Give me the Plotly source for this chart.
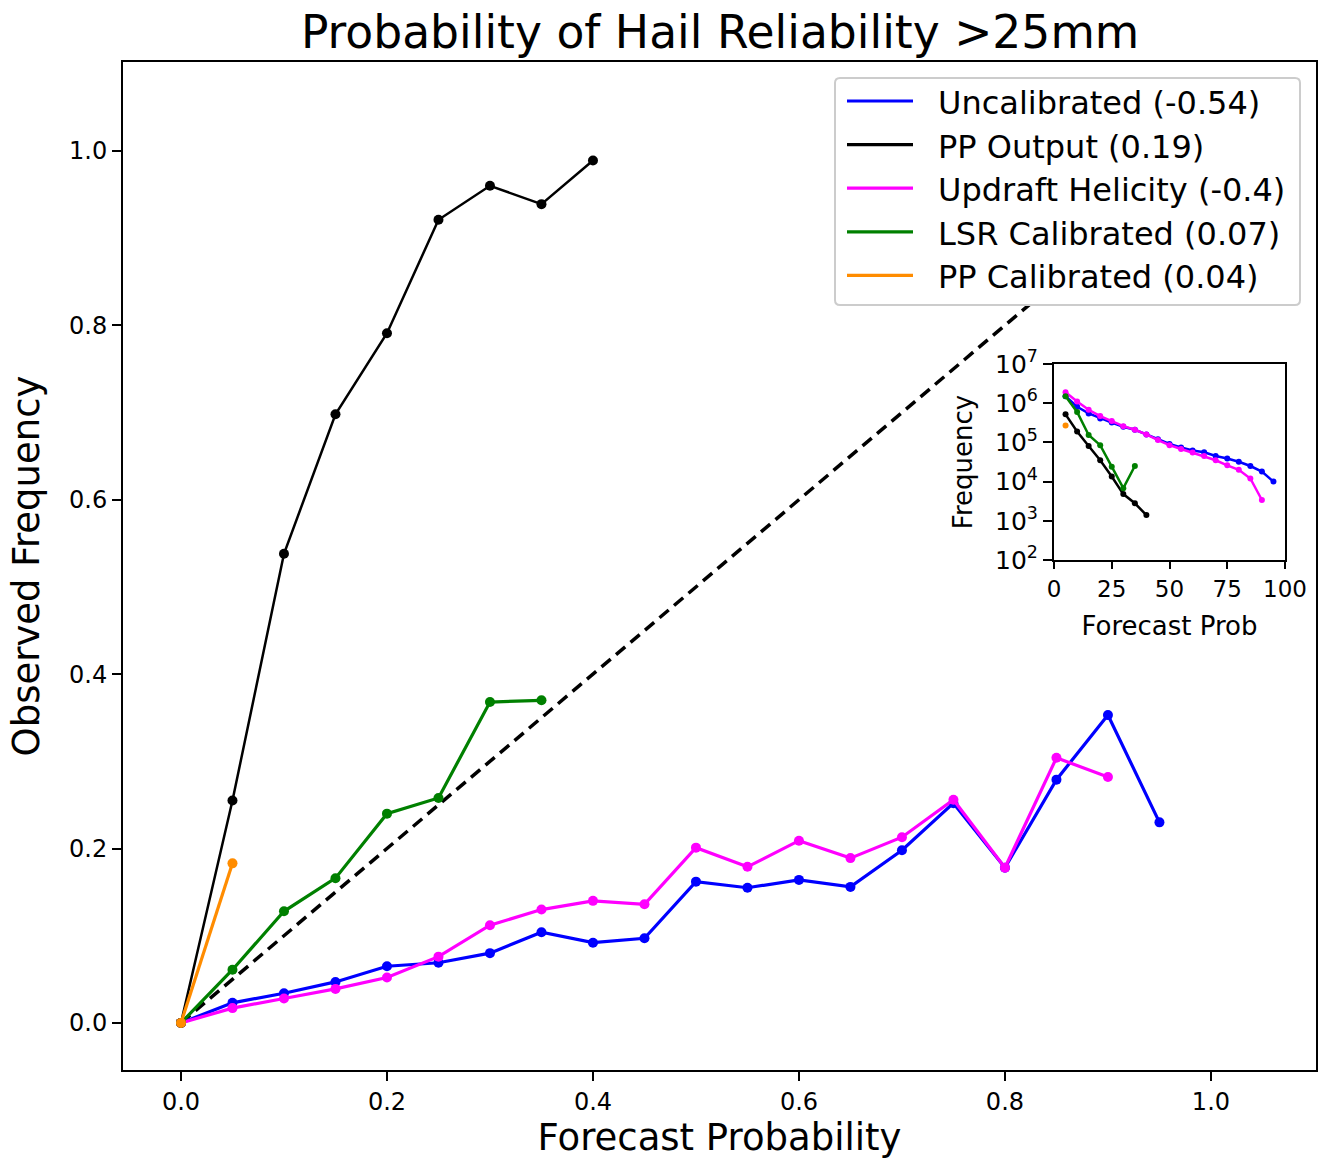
import plotly.graph_objects as go

# ---------------- data ----------------
prob_unc = [0.0, 0.05, 0.1, 0.15, 0.2, 0.25, 0.3, 0.35, 0.4, 0.45, 0.5, 0.55, 0.6, 0.65, 0.7, 0.75, 0.8, 0.85, 0.9, 0.95]
obs_unc = [0.0, 0.023, 0.034, 0.047, 0.065, 0.069, 0.080, 0.104, 0.092, 0.097, 0.162, 0.155, 0.164, 0.156, 0.198, 0.252, 0.178, 0.279, 0.353, 0.230]

prob_pp = [0.0, 0.05, 0.1, 0.15, 0.2, 0.25, 0.3, 0.35, 0.4]
obs_pp = [0.0, 0.255, 0.538, 0.698, 0.791, 0.921, 0.960, 0.939, 0.989]

prob_uh = [0.0, 0.05, 0.1, 0.15, 0.2, 0.25, 0.3, 0.35, 0.4, 0.45, 0.5, 0.55, 0.6, 0.65, 0.7, 0.75, 0.8, 0.85, 0.9]
obs_uh = [0.0, 0.017, 0.028, 0.039, 0.052, 0.076, 0.112, 0.130, 0.140, 0.136, 0.201, 0.179, 0.209, 0.189, 0.213, 0.256, 0.178, 0.304, 0.282]

prob_lsr = [0.0, 0.05, 0.1, 0.15, 0.2, 0.25, 0.3, 0.35]
obs_lsr = [0.0, 0.061, 0.128, 0.166, 0.240, 0.258, 0.368, 0.370]

prob_ppc = [0.0, 0.05]
obs_ppc = [0.0, 0.183]

perfect = [0.0, 1.0]

# inset: forecast counts (forecast prob in %)
fp_unc = [5, 10, 15, 20, 25, 30, 35, 40, 45, 50, 55, 60, 65, 70, 75, 80, 85, 90, 95]
freq_unc = [1.5e6, 8.1e5, 5.5e5, 4.1e5, 3.2e5, 2.5e5, 2.1e5, 1.6e5, 1.2e5, 9.1e4, 7.4e4, 6.2e4, 5.6e4, 4.5e4, 3.9e4, 3.2e4, 2.5e4, 1.8e4, 1.0e4]
fp_uh = [5, 10, 15, 20, 25, 30, 35, 40, 45, 50, 55, 60, 65, 70, 75, 80, 85, 90]
freq_uh = [1.9e6, 1.1e6, 6.8e5, 4.7e5, 3.5e5, 2.6e5, 2.1e5, 1.6e5, 1.15e5, 8.5e4, 6.8e4, 5.5e4, 4.5e4, 3.5e4, 2.6e4, 2.0e4, 1.2e4, 3.4e3]
fp_lsr = [5, 10, 15, 20, 25, 30, 35]
freq_lsr = [1.5e6, 6.0e5, 1.55e5, 8.5e4, 2.4e4, 6.8e3, 2.5e4]
fp_pp = [5, 10, 15, 20, 25, 30, 35, 40]
freq_pp = [5.2e5, 1.9e5, 8.1e4, 3.5e4, 1.35e4, 4.8e3, 2.8e3, 1.4e3]
fp_ppc = [5]
freq_ppc = [2.7e5]

names = ["Uncalibrated (-0.54)", "PP Output (0.19)", "Updraft Helicity (-0.4)",
         "LSR Calibrated (0.07)", "PP Calibrated (0.04)"]
colors = ["#0000ff", "#000000", "#ff00ff", "#008000", "#ff8c00"]

main_ticks = [0.0, 0.2, 0.4, 0.6, 0.8, 1.0]
inset_xticks = [0, 25, 50, 75, 100]
inset_yticks = [1e2, 1e3, 1e4, 1e5, 1e6, 1e7]
inset_ytext = ["10<sup>2</sup>", "10<sup>3</sup>", "10<sup>4</sup>",
               "10<sup>5</sup>", "10<sup>6</sup>", "10<sup>7</sup>"]

main_series = [(prob_unc, obs_unc), (prob_pp, obs_pp), (prob_uh, obs_uh),
               (prob_lsr, obs_lsr), (prob_ppc, obs_ppc)]
inset_series = [(fp_unc, freq_unc), (fp_pp, freq_pp), (fp_uh, freq_uh),
                (fp_lsr, freq_lsr), (fp_ppc, freq_ppc)]

FONT = "DejaVu Sans"

fig = go.Figure()

# perfect reliability line
fig.add_trace(go.Scatter(x=perfect, y=perfect, mode="lines",
                         line=dict(color="black", width=3.5, dash="12px,7px"),
                         showlegend=False, hoverinfo="skip"))

for (xs, ys), c, n in zip(main_series, colors, names):
    w = 2.5 if c == "#000000" else 3.2
    fig.add_trace(go.Scatter(x=xs, y=ys, mode="lines+markers",
                             line=dict(color=c, width=w),
                             marker=dict(color=c, size=10),
                             name=n, showlegend=False))

# inset
for (xs, ys), c, n in zip(inset_series, colors, names):
    fig.add_trace(go.Scatter(x=xs, y=ys, mode="lines+markers",
                             line=dict(color=c, width=2.5),
                             marker=dict(color=c, size=6), name=n,
                             xaxis="x2", yaxis="y2", showlegend=False))

W, H = 1320, 1159
L, R, T, B = 123, 4, 62, 89
pw, ph = W - L - R, H - T - B

def px2dx(px):
    return (px - L) / pw

def py2dy(py):
    return (H - B - py) / ph

# ---- legend box (drawn manually, matplotlib style) ----
bx0, bx1, by0, by1, rr = 835, 1300, 78, 305, 5
path = (f"M {px2dx(bx0 + rr)},{py2dy(by0)} L {px2dx(bx1 - rr)},{py2dy(by0)} "
        f"Q {px2dx(bx1)},{py2dy(by0)} {px2dx(bx1)},{py2dy(by0 + rr)} "
        f"L {px2dx(bx1)},{py2dy(by1 - rr)} "
        f"Q {px2dx(bx1)},{py2dy(by1)} {px2dx(bx1 - rr)},{py2dy(by1)} "
        f"L {px2dx(bx0 + rr)},{py2dy(by1)} "
        f"Q {px2dx(bx0)},{py2dy(by1)} {px2dx(bx0)},{py2dy(by1 - rr)} "
        f"L {px2dx(bx0)},{py2dy(by0 + rr)} "
        f"Q {px2dx(bx0)},{py2dy(by0)} {px2dx(bx0 + rr)},{py2dy(by0)} Z")
shapes = [dict(type="path", path=path, xref="paper", yref="paper",
               fillcolor="white", line=dict(color="#cccccc", width=2), layer="above")]
annotations = []
row_y0, row_dy = 101, 43.6
for i, (c, n) in enumerate(zip(colors, names)):
    yy = py2dy(row_y0 + i * row_dy)
    shapes.append(dict(type="line", xref="paper", yref="paper",
                       x0=px2dx(847), x1=px2dx(913), y0=yy, y1=yy,
                       line=dict(color=c, width=3.2), layer="above"))
    annotations.append(dict(text=n, xref="paper", yref="paper", x=px2dx(936),
                            y=py2dy(row_y0 + 2 + i * row_dy),
                            xanchor="left", yanchor="middle", showarrow=False,
                            font=dict(size=32, family=FONT, color="black")))

fig.update_layout(
    width=W, height=H,
    margin=dict(l=L, r=R, t=T, b=B, pad=0),
    paper_bgcolor="white", plot_bgcolor="white",
    font=dict(family=FONT, color="black"),
    title=dict(text="Probability of Hail Reliability >25mm", x=0.5455, xanchor="center",
               y=1 - 32 / H, yanchor="middle", font=dict(size=45.6, family=FONT)),
    xaxis=dict(range=[-0.0563, 1.102], tickvals=main_ticks,
               tickformat=".1f", showgrid=False, zeroline=False,
               showline=True, mirror=True, linecolor="black", linewidth=2,
               ticks="outside", ticklen=9, tickwidth=2, tickcolor="black",
               tickfont=dict(size=24), automargin=False,
               title=dict(text="Forecast Probability", font=dict(size=37), standoff=17)),
    yaxis=dict(range=[-0.054, 1.102], tickvals=main_ticks,
               tickformat=".1f", showgrid=False, zeroline=False,
               showline=True, mirror=True, linecolor="black", linewidth=2,
               ticks="outside", ticklen=9, tickwidth=2, tickcolor="black",
               tickfont=dict(size=24), automargin=False,
               title=dict(text="Observed Frequency", font=dict(size=37), standoff=18)),
    xaxis2=dict(domain=[px2dx(1054), px2dx(1285)], anchor="y2", range=[0, 100],
                tickvals=inset_xticks, showgrid=False, zeroline=False,
                showline=True, mirror=True, linecolor="black", linewidth=2,
                ticks="outside", ticklen=7, tickwidth=2, tickcolor="black",
                tickfont=dict(size=23), automargin=False,
                title=dict(text="Forecast Prob", font=dict(size=26), standoff=16)),
    yaxis2=dict(domain=[py2dy(560), py2dy(364)], anchor="x2", type="log", range=[2, 7],
                tickvals=inset_yticks, ticktext=inset_ytext,
                showgrid=False, zeroline=False,
                showline=True, mirror=True, linecolor="black", linewidth=2,
                ticks="outside", ticklen=9, tickwidth=2, tickcolor="black",
                tickfont=dict(size=25), automargin=False,
                title=dict(text="Frequency", font=dict(size=26), standoff=15)),
    shapes=shapes,
    annotations=annotations,
    showlegend=False,
)

fig.write_html("out.html")
